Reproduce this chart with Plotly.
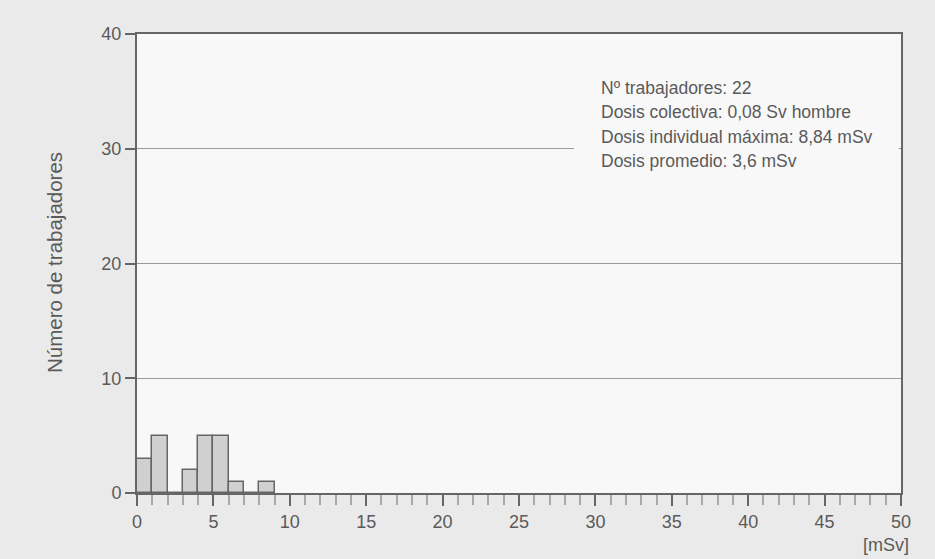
import plotly.graph_objects as go

bin_starts = [0, 1, 2, 3, 4, 5, 6, 7, 8]
counts = [3, 5, 0, 2, 5, 5, 1, 0, 1]
info_lines = [
    "Nº trabajadores: 22",
    "Dosis colectiva: 0,08 Sv hombre",
    "Dosis individual máxima: 8,84 mSv",
    "Dosis promedio: 3,6 mSv",
]
y_ticks = [0, 10, 20, 30, 40]

txt = "#5a5a5a"
font = "Liberation Sans, Arial, sans-serif"

L, R, T, B = 137, 34, 34, 66
W, H = 935, 559
pw, ph = W - L - R, H - T - B

def px(x):
    return (x - L) / pw

def py(y):
    return 1 - (y - T) / ph

fig = go.Figure()
fig.add_trace(go.Bar(
    x=[b + 0.5 for b in bin_starts], y=counts, width=1,
    marker=dict(color="#d0d0d0", line=dict(color="#666666", width=1.5)),
    hoverinfo="skip", showlegend=False,
))

fig.update_layout(
    width=W, height=H,
    margin=dict(l=L, r=R, t=T, b=B),
    paper_bgcolor="#eaeaea", plot_bgcolor="#f8f8f8",
    font=dict(family=font, color=txt, size=17),
    bargap=0,
    xaxis=dict(range=[0, 50], tick0=0, dtick=5, ticks="outside", ticklen=11,
               tickwidth=2, tickcolor="#666666", showgrid=False, zeroline=False,
               showline=True, linecolor="#666666", linewidth=2, mirror=True,
               tickfont=dict(size=18, color=txt),
               minor=dict(dtick=1, ticks="outside", ticklen=10, tickcolor="#a8a8a8", tickwidth=1.5)),
    yaxis=dict(range=[0, 40], tickvals=y_ticks, ticks="outside", ticklen=10,
               tickwidth=2, tickcolor="#666666", showgrid=True, gridcolor="#999999",
               gridwidth=1, zeroline=False, showline=True, linecolor="#666666",
               linewidth=2, mirror=True, tickfont=dict(size=18, color=txt)),
)

fig.add_shape(type="rect", xref="x", yref="y", x0=28.6, x1=49.85, y0=27, y1=39.8,
              fillcolor="#f8f8f8", line=dict(width=0), layer="above")

for i, line in enumerate(info_lines):
    fig.add_annotation(xref="paper", yref="paper", x=px(599),
                       y=py(88 + i * 24.4), xanchor="left", yanchor="middle",
                       text=line, showarrow=False, font=dict(size=17.5, color=txt))

fig.add_annotation(xref="paper", yref="paper", x=px(54), y=py(263),
                   xanchor="center", yanchor="middle", textangle=-90,
                   text="Número de trabajadores", showarrow=False,
                   font=dict(size=20.5, color=txt))

fig.add_annotation(xref="paper", yref="paper", x=px(911), y=py(545),
                   xanchor="right", yanchor="middle", text="[mSv]", showarrow=False,
                   font=dict(size=18, color=txt))

fig.write_html("out.html", config={"displayModeBar": False},
               post_script="document.body.style.margin='0';")
